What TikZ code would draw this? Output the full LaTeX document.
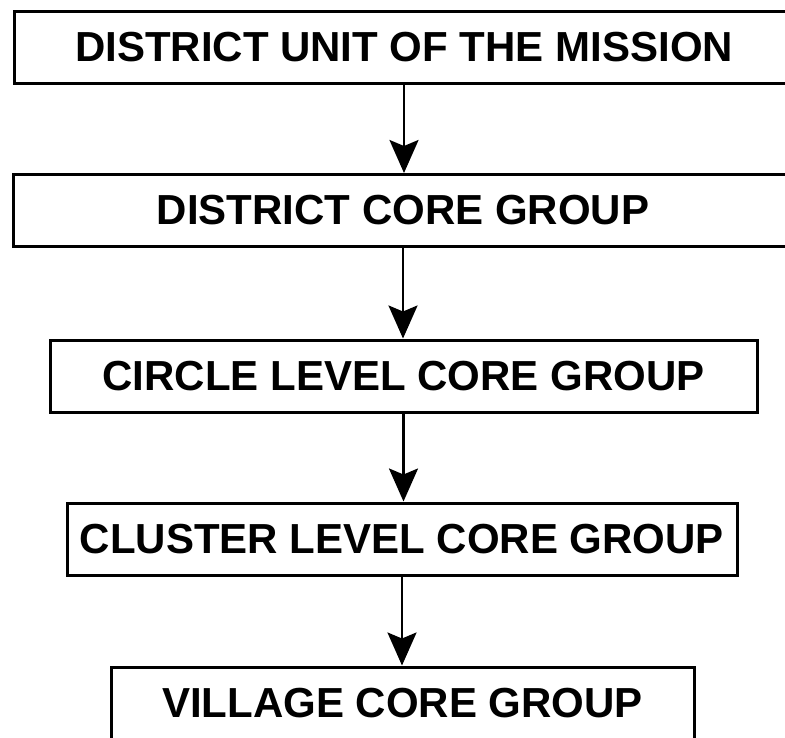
\documentclass[tikz,border=0pt]{standalone}
\usepackage{fontspec}
\setmainfont{Liberation Sans}
\usetikzlibrary{arrows.meta}

\begin{document}
\begin{tikzpicture}[x=1pt, y=-1pt,
    level/.style ={rectangle, draw, line width=3pt, minimum height=72pt,
       inner sep=0pt, font=\fontsize{42}{48}\selectfont\bfseries},
    down/.style ={line width=2.4pt, -{Stealth[length=33pt, width=29pt, inset=6pt]}}]
   \clip (0,0) rectangle (785,737);
   \node[level, minimum width=780pt] (mission)  at (404,47.5) {DISTRICT UNIT OF THE MISSION};
   \node[level, minimum width=780pt] (district) at (403,210.5) {DISTRICT CORE GROUP};
   \node[level, minimum width=707pt] (circle)   at (403.5,376) {CIRCLE LEVEL CORE GROUP};
   \node[level, minimum width=670pt] (cluster)  at (402,539) {CLUSTER LEVEL CORE GROUP};
   \node[level, minimum width=583pt] (village)  at (402.5,703) {VILLAGE CORE GROUP};

   \draw[down] (mission.south)  to (mission.south |- district.north);
   \draw[down] (district.south) to (district.south |- circle.north);
   \draw[down] (circle.south)   to (circle.south |- cluster.north);
   \draw[down] (cluster.south)  to (cluster.south |- village.north);
 \end{tikzpicture}
\end{document}
